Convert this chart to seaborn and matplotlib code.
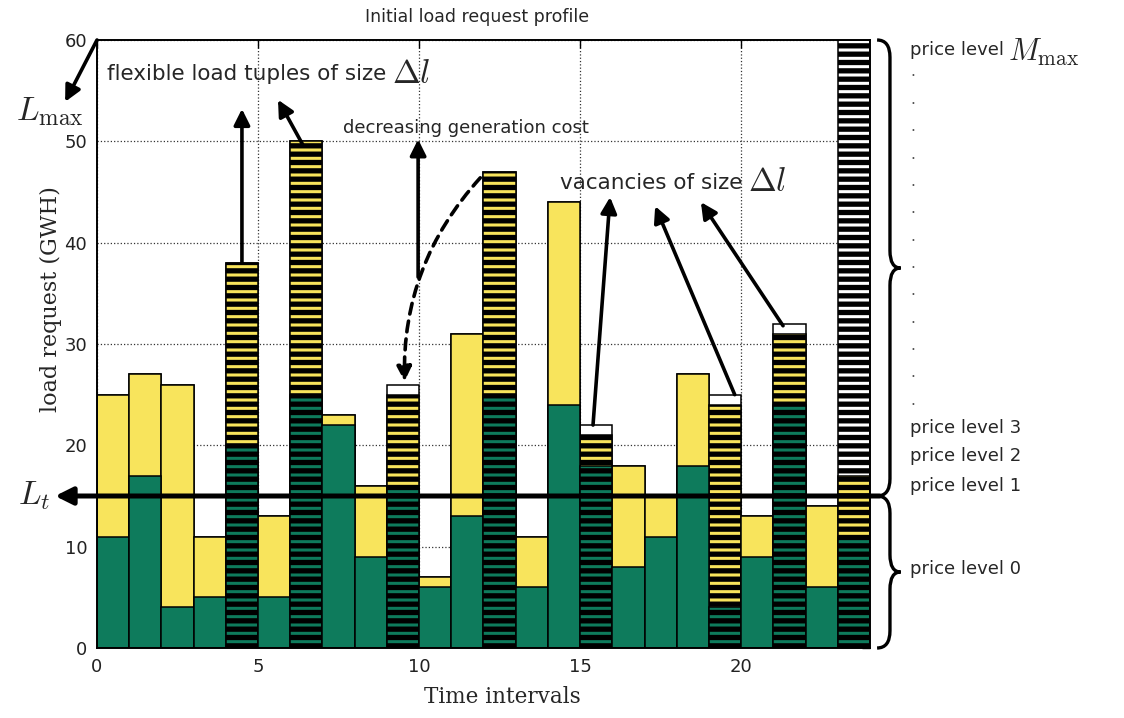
import numpy as np
import pandas as pd
import matplotlib
matplotlib.use("Agg")
import matplotlib.pyplot as plt
import seaborn as sns
from matplotlib.path import Path
from matplotlib.patches import PathPatch

# ---------------- data ----------------
intervals = list(range(24))
base_load = [11, 17, 4, 5, 20, 5, 25, 22, 9, 16, 6, 13, 25, 6, 24, 18, 8, 11, 18, 4, 9, 24, 6, 11]
requested_load = [25, 27, 26, 11, 38, 13, 50, 23, 16, 25, 7, 31, 47, 11, 44, 21, 18, 15, 27, 24, 13, 31, 14, 17]
slot_top = [25, 27, 26, 11, 38, 13, 50, 23, 16, 26, 7, 31, 47, 11, 44, 22, 18, 15, 27, 25, 13, 32, 14, 60]
flexible_intervals = [4, 6, 9, 12, 15, 19, 21, 23]
hatched_slots = [23]
load_threshold = 15     # L_t
load_max = 60           # L_max
x_ticks = [0, 5, 10, 15, 20]
y_ticks = [0, 10, 20, 30, 40, 50, 60]
price_levels_upper = ["price level 3", "price level 2", "price level 1"]
price_level_upper_y = [21.7, 18.9, 16.0]
price_level_base = "price level 0"

GREEN = "#0e7b5c"
YELLOW = "#f8e45c"

sns.set_theme(style="white")
plt.rcParams.update({
    "font.family": ["DejaVu Sans"],
    "mathtext.fontset": "cm",
    "hatch.linewidth": 3.8,
    "hatch.color": "black",
    "axes.edgecolor": "black",
    "axes.linewidth": 1.4,
})

fig = plt.figure(figsize=(11.24, 7.18), dpi=100)
ax = fig.add_axes([97 / 1124, 70 / 718, 773 / 1124, 608 / 718])

df = pd.DataFrame({
    "interval": [i + 0.5 for i in intervals],
    "slot": slot_top,
    "requested": requested_load,
    "base": base_load,
})


def bar_layer(column, color, hatched):
    n0 = len(ax.patches)
    sns.barplot(data=df, x="interval", y=column, native_scale=True, orient="x",
                width=1.0, color=color, saturation=1, edgecolor="black",
                linewidth=1.1, errorbar=None, ax=ax, zorder=2)
    for k, patch in zip(intervals, ax.patches[n0:]):
        if k in hatched:
            patch.set_hatch("--")


bar_layer("slot", "white", hatched_slots)
bar_layer("requested", YELLOW, flexible_intervals)
bar_layer("base", GREEN, flexible_intervals)

# ---------------- axes ----------------
ax.set_xlim(0, 24)
ax.set_ylim(0, load_max)
ax.set_xticks(x_ticks)
ax.set_xticklabels([str(t) for t in x_ticks])
ax.set_yticks(y_ticks)
ax.set_yticklabels([str(t) for t in y_ticks])
ax.grid(True, linestyle=":", color="#333333", linewidth=0.9)
ax.set_axisbelow(True)
ax.tick_params(direction="in", length=6, width=1, top=True, right=True,
               labelsize=13, pad=7, colors="black", labelcolor="#222222")
for s in ax.spines.values():
    s.set_visible(True)
    s.set_color("black")
    s.set_linewidth(1.4)

ax.set_xlabel("Time intervals", family="DejaVu Serif", fontsize=15.5)
ax.xaxis.set_label_coords(0.525, -0.062)
ax.set_ylabel("load request (GWH)", family="DejaVu Serif", fontsize=16)
ax.yaxis.set_label_coords(-0.045, 0.574)
ax.set_title("Initial load request profile", fontsize=12.5, pad=13, x=0.492)

# ---------------- annotations ----------------
def arrow(tail, head, lw=2.6, ls="-", rad=0.0, ms=24):
    ax.annotate("", xy=head, xytext=tail,
                arrowprops=dict(arrowstyle="-|>", color="black", lw=lw, linestyle=ls,
                                mutation_scale=ms, shrinkA=0, shrinkB=0,
                                connectionstyle=f"arc3,rad={rad}"),
                annotation_clip=False, zorder=7)

# L_t threshold line
arrow((24.3, load_threshold), (-1.3, load_threshold), lw=3.6, ms=26)
ax.text(-1.95, load_threshold, "$L_t$", fontsize=24, ha="center", va="center")

# L_max
arrow((0.0, load_max), (-0.99, 53.9), lw=2.6, ms=24)
ax.text(-1.46, 52.9, r"$L_{\max}$", fontsize=24, ha="center", va="center")

# flexible load tuples
t1 = ax.text(0.31, 56.6, "flexible load tuples of size", fontsize=15.5, ha="left", va="center", zorder=8)
ax.annotate(r"$\Delta l$", xy=(1, 0.5), xycoords=t1, xytext=(4, 1), textcoords="offset points",
            fontsize=24, ha="left", va="center")
arrow((4.5, requested_load[4]), (4.5, 53.2))
arrow((6.4, 49.6), (5.62, 54.1))

# decreasing generation cost
ax.text(7.64, 51.3, "decreasing generation cost", fontsize=13, ha="left", va="center", zorder=8)
arrow((9.97, 36.6), (9.97, 50.2))
arrow((11.9, 46.4), (9.55, 26.3), lw=2.6, ls=(0, (3, 2)), rad=0.2, ms=22)

# vacancies
t2 = ax.text(14.38, 45.9, "vacancies of size", fontsize=15.5, ha="left", va="center", zorder=8)
ax.annotate(r"$\Delta l$", xy=(1, 0.5), xycoords=t2, xytext=(4, 1), textcoords="offset points",
            fontsize=24, ha="left", va="center")
arrow((15.4, 22.0), (15.93, 44.5))
arrow((19.8, 25.0), (17.33, 43.6))
arrow((21.3, 31.8), (18.75, 44.0))


# braces on the right
def brace(y0, y1, x0=24.22, x1=24.62, x2=24.95, r=1.7):
    ym = (y0 + y1) / 2
    verts = [(x0, y1), (x1, y1), (x1, y1 - r),
             (x1, ym + r), (x1, ym), (x2, ym),
             (x1, ym), (x1, ym - r),
             (x1, y0 + r), (x1, y0), (x0, y0)]
    codes = [Path.MOVETO, Path.CURVE3, Path.CURVE3,
             Path.LINETO, Path.CURVE3, Path.CURVE3,
             Path.CURVE3, Path.CURVE3,
             Path.LINETO, Path.CURVE3, Path.CURVE3]
    ax.add_patch(PathPatch(Path(verts, codes), fill=False, lw=2.4, color="black",
                           clip_on=False, zorder=7))


brace(load_threshold, load_max)
brace(0, load_threshold)

t3 = ax.text(25.25, 59.0, "price level", fontsize=13, ha="left", va="center")
ax.annotate(r"$M_{\max}$", xy=(1, 0.4), xycoords=t3, xytext=(3, 0), textcoords="offset points",
            fontsize=22, ha="left", va="center")
for yv in np.linspace(56.4, 24.0, 13):
    ax.text(25.33, yv, ".", fontsize=11, color="#555555", ha="center", va="baseline")
for lab, yv in zip(price_levels_upper, price_level_upper_y):
    ax.text(25.25, yv, lab, fontsize=13, ha="left", va="center")
ax.text(25.25, 7.8, price_level_base, fontsize=13, ha="left", va="center")

fig.savefig("out.png", dpi=100)
